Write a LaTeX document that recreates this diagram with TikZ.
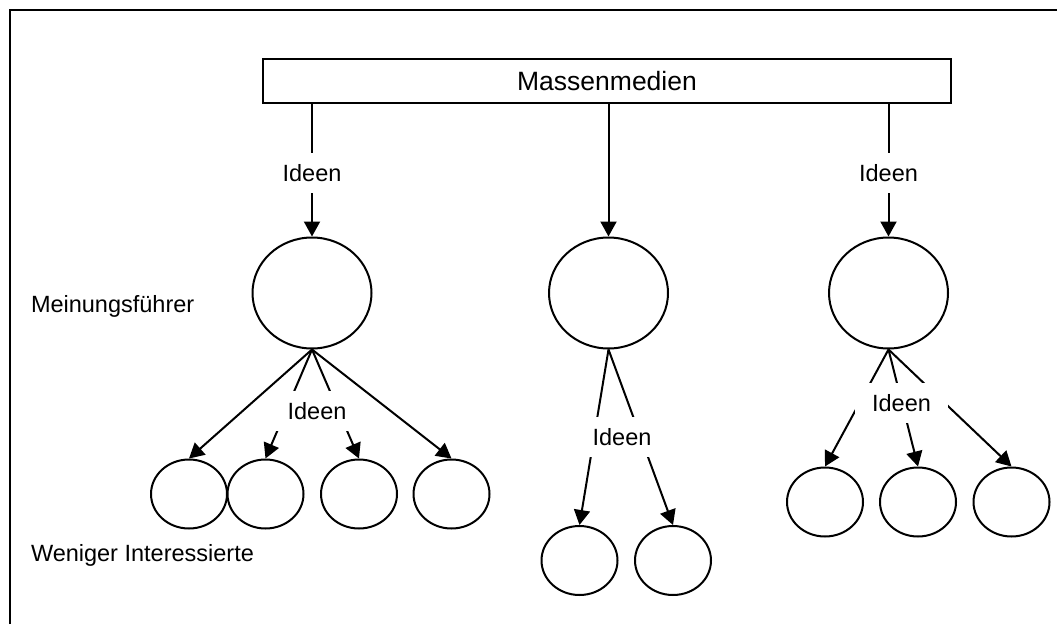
\documentclass[tikz,border=0pt]{standalone}
\usepackage{fontspec}
\setmainfont{Liberation Sans}
\usetikzlibrary{shapes.geometric,arrows.meta}
\begin{document}
\begin{tikzpicture}[x=1pt,y=-1pt,line width=2pt,
  arr/.style={-{Triangle[length=15pt,width=16pt]}},
  bigcirc/.style={draw,ellipse,inner sep=0pt,minimum width=119pt,minimum height=111pt},
  smallcirc/.style={draw,ellipse,inner sep=0pt,minimum width=76pt,minimum height=69pt},
  lbl/.style={fill=white,inner sep=0pt,minimum width=93pt,minimum height=40pt,
    font=\fontsize{23.5}{28}\selectfont},
  plain/.style={inner sep=0pt,font=\fontsize{23.5}{28}\selectfont}]
\useasboundingbox (0,0) rectangle (1057,624);
\fill[white] (0,0) rectangle (1057,624);
% frame
\draw (10,624) -- (10,10) -- (1057,10);

% source box
\node[draw,inner sep=0pt,minimum width=688pt,minimum height=44pt,
  font=\fontsize{26.5}{30}\selectfont] (mm) at (607,81) {Massenmedien};

% opinion leaders
\node[bigcirc] (b1) at (312,293) {};
\node[bigcirc] (b2) at (608.5,293) {};
\node[bigcirc] (b3) at (888.5,293) {};

% less interested people
\node[smallcirc] (a1) at (189,494) {};
\node[smallcirc] (a2) at (265.5,494) {};
\node[smallcirc] (a3) at (359,494) {};
\node[smallcirc] (a4) at (451.5,494) {};
\node[smallcirc] (m1) at (579.5,560.5) {};
\node[smallcirc] (m2) at (673,560.5) {};
\node[smallcirc] (r1) at (825,502) {};
\node[smallcirc] (r2) at (918,502) {};
\node[smallcirc] (r3) at (1011.5,502) {};

% media to leaders
\draw[arr] (b1 |- mm.south) -- (b1.north);
\draw[arr] (b2 |- mm.south) -- (b2.north);
\draw[arr] (b3 |- mm.south) -- (b3.north);

% leaders to followers
\draw[arr] (b1.south) -- (a2.north);
\draw[arr] (b1.south) -- (a3.north);
\draw[arr] (b2.south) -- (m1.north);
\draw[arr] (b2.south) -- (m2.north);
\draw[arr] (b3.south) -- (r1.north);
\draw[arr] (b3.south) -- (r2.north);
\draw[arr] (b3.south) -- (r3.north);

% labels over the connectors
\node[lbl] (l1) at (312,173) {Ideen};
\node[lbl] (l2) at (888.5,173) {Ideen};
\node[lbl,minimum width=88pt] (l3) at (317,411) {Ideen};
\node[lbl] (l4) at (622,437) {Ideen};
\node[lbl] (l5) at (901.5,403) {Ideen};

% outer arrows of the left group
\draw[arr] (b1.south) -- (a1.north);
\draw[arr] (b1.south) -- (a4.north);

% side captions
\node[plain,anchor=base west] (t1) at (30,312) {Meinungsführer};
\node[plain,anchor=base west] (t2) at (30,561) {Weniger Interessierte};
\end{tikzpicture}
\end{document}
